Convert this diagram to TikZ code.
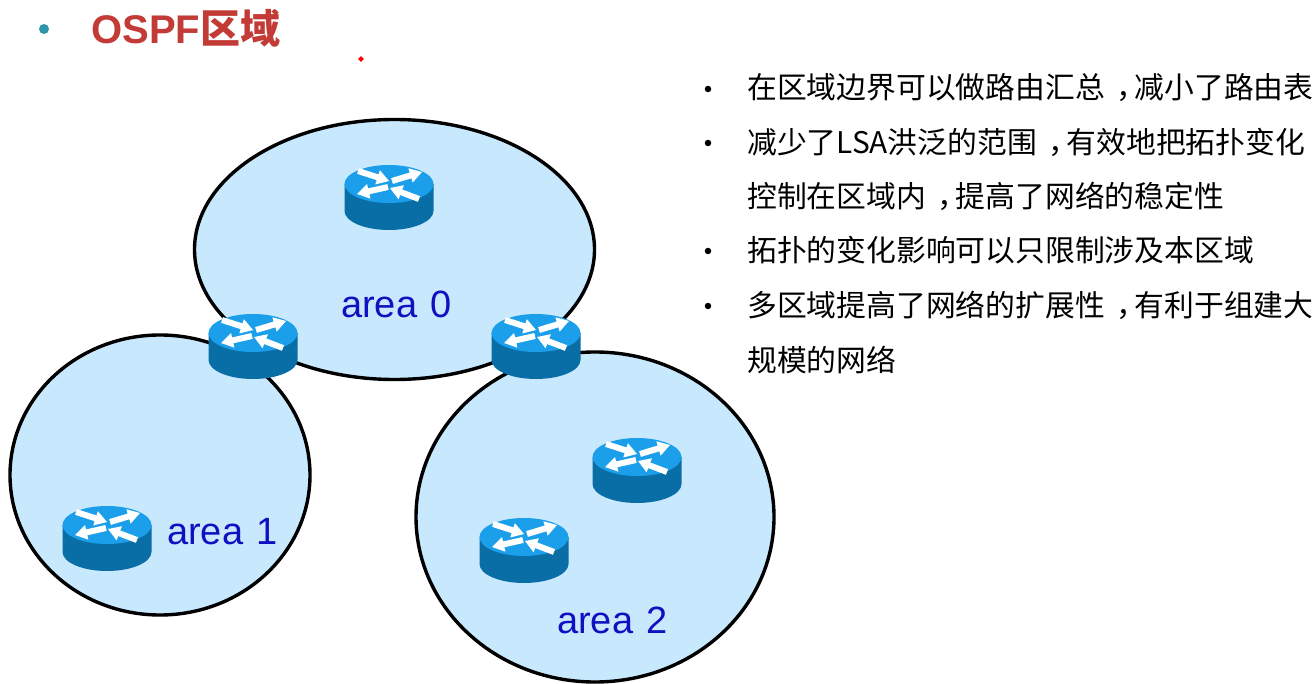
\documentclass[tikz,border=0pt]{standalone}
\usepackage{fontspec}
\setmainfont{Liberation Sans}
\newfontfamily\cjk{Noto Sans CJK SC}
\usetikzlibrary{shapes.geometric}
\definecolor{areafill}{HTML}{C8E8FE}
\definecolor{areatext}{HTML}{1010C0}
\definecolor{titlered}{HTML}{C23B36}
\definecolor{teal1}{HTML}{2E96A8}
\definecolor{rtop}{HTML}{1C9FEA}
\definecolor{rside}{HTML}{0A6EA6}
\newcommand{\fwcomma}{\kern.38em，\kern-.38em}
\newcommand{\widegap}{\hspace{3pt}}
\tikzset{
  x=1pt,y=-1pt,
  area/.style={draw=black,line width=3.4pt,fill=areafill},
  arealabel/.style={anchor=base,inner sep=0pt,text=areatext,font=\fontsize{38}{40}\selectfont},
  itemtext/.style={anchor=base west,inner sep=0pt,font=\cjk\fontsize{29.8}{30}\selectfont,text=black},
  itembullet/.style={circle,fill=black,inner sep=0pt,minimum size=6.5pt},
  router/.pic={
    \fill[rside] (-44.5,0) -- (-44.5,27) arc[start angle=180,end angle=0,x radius=44.5,y radius=19] -- (44.5,0) -- cycle;
    \fill[rtop] (0,0) ellipse[x radius=44.5,y radius=19];
    \foreach \ax/\ay/\bx/\by in {-31/-13/0/-3, 3/-3/33/-12, -1/3/-32/10, 30/15/1/4}{
      \pgfmathsetmacro{\ang}{atan2(\ay-\by,\bx-\ax)}
      \pgfmathsetmacro{\len}{veclen(\bx-\ax,\by-\ay)}
      \pgfmathsetmacro{\neck}{\len-12}
      \begin{scope}[shift={(\ax,\ay)},rotate=\ang]
        \fill[white] (0,-3) -- (\neck,-3) -- (\neck,-7.5) -- (\len,0) -- (\neck,7.5) -- (\neck,3) -- (0,3) -- cycle;
      \end{scope}
    }
  }
}
\begin{document}
\begin{tikzpicture}
\useasboundingbox (0,0) rectangle (1314,684);
\fill[white] (0,0) rectangle (1314,684);
% title
\node[circle,fill=teal1,inner sep=0pt,minimum size=10pt] (titledot) at (44,29) {};
\node[anchor=base west,inner sep=0pt,text=titlered,font=\bfseries\fontsize{40}{40}\selectfont] (title) at (91,44) {OSPF{\cjk\bfseries 区域}};
\node[diamond,fill=red,inner sep=0pt,minimum size=6pt] (reddot) at (361,59) {};
% areas
\draw[area] (160,475) ellipse[x radius=150,y radius=140];
\draw[area] (595,517) ellipse[x radius=179,y radius=165];
\draw[area] (394.5,249.5) ellipse[x radius=200,y radius=130];
% routers
\pic at (389,184) {router};
\pic at (253,333) {router};
\pic at (536,333) {router};
\pic at (637,457) {router};
\pic at (524,537) {router};
\pic at (107,525) {router};
% labels
\node[arealabel] (a0) at (396.5,318) {area \widegap 0};
\node[arealabel] (a1) at (222.5,544) {area \widegap 1};
\node[arealabel] (a2) at (612.5,633) {area \widegap 2};
% list
\foreach \yy in {89,143,251,306}{\node[itembullet] at (708,\yy) {};}
\node[itemtext] (l1) at (747,99) {在区域边界可以做路由汇总\fwcomma 减小了路由表};
\node[itemtext] (l2) at (747,154) {减少了LSA洪泛的范围\fwcomma 有效地把拓扑变化};
\node[itemtext] (l3) at (747,208) {控制在区域内\fwcomma 提高了网络的稳定性};
\node[itemtext] (l4) at (747,262) {拓扑的变化影响可以只限制涉及本区域};
\node[itemtext] (l5) at (747,317) {多区域提高了网络的扩展性\fwcomma 有利于组建大};
\node[itemtext] (l6) at (747,371) {规模的网络};
\end{tikzpicture}
\end{document}
